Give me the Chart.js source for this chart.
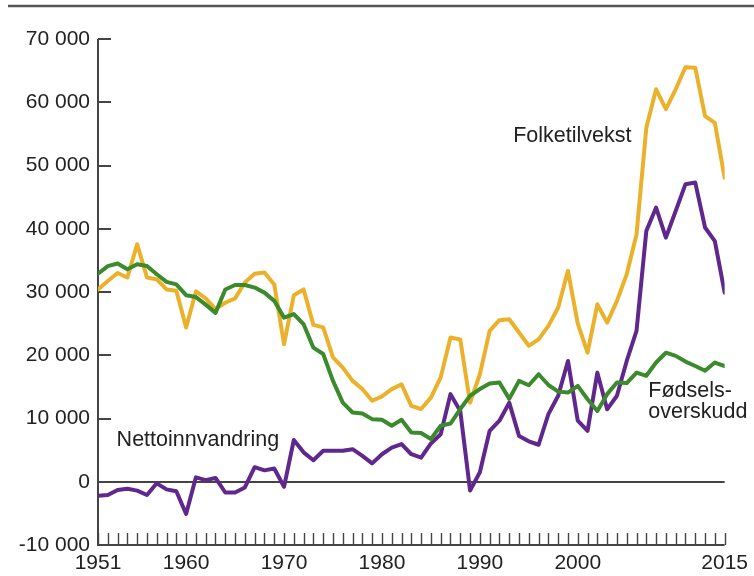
<!DOCTYPE html>
<html>
<head>
<meta charset="utf-8">
<script src="https://cdn.jsdelivr.net/npm/chart.js@4/dist/chart.umd.min.js"></script>
<style>
  html, body { margin: 0; padding: 0; background: #ffffff; }
  #wrap { width: 754px; height: 576px; position: relative; }
</style>
</head>
<body>
<div id="wrap"><canvas id="c" width="754" height="576"></canvas></div>
<script>
// ---- Data ----
const years = [1951,1952,1953,1954,1955,1956,1957,1958,1959,1960,
  1961,1962,1963,1964,1965,1966,1967,1968,1969,1970,
  1971,1972,1973,1974,1975,1976,1977,1978,1979,1980,
  1981,1982,1983,1984,1985,1986,1987,1988,1989,1990,
  1991,1992,1993,1994,1995,1996,1997,1998,1999,2000,
  2001,2002,2003,2004,2005,2006,2007,2008,2009,2010,
  2011,2012,2013,2014,2015];

const folketilvekst = [30400,31750,33000,32300,37550,32300,32000,30400,30200,24400,
  30100,29000,27300,28300,29000,31500,32900,33100,31200,21750,
  29500,30400,24800,24400,19650,18050,15950,14650,12800,13500,
  14650,15400,12000,11500,13300,16500,22800,22500,12500,17000,
  23850,25550,25700,23600,21500,22500,24650,27550,33350,25000,
  20400,28050,25150,28600,32800,39100,55950,62050,58900,62050,
  65550,65450,57800,56750,48050];

const fodselsoverskudd = [32900,34100,34500,33600,34400,34100,32800,31600,31200,29500,
  29200,28000,26700,30400,31100,31100,30700,29900,28600,25950,
  26500,24900,21200,20200,15950,12500,10950,10800,9900,9800,
  8850,9800,7800,7700,6750,8850,9200,11500,13600,14650,
  15550,15700,13100,15950,15250,17000,15300,14250,14100,15150,
  13050,11200,13850,15700,15600,17250,16750,18850,20400,19900,
  19000,18300,17550,18850,18300];

const nettoinnvandring = [-2200,-2100,-1300,-1100,-1400,-2100,-250,-1200,-1500,-5100,
  700,250,600,-1700,-1700,-900,2300,1800,2100,-800,
  6600,4650,3400,4900,4900,4900,5150,4100,2900,4350,
  5400,5950,4350,3800,6050,7500,13850,11200,-1400,1500,
  8050,9650,12500,7250,6400,5850,10700,13600,19100,9650,
  8050,17250,11450,13600,19100,23850,39650,43350,38600,42800,
  47050,47300,40200,38050,29900];

const yTickValues = [-10000,0,10000,20000,30000,40000,50000,60000,70000];
const xTickLabels = [1951,1960,1970,1980,1990,2000,2015];

// Series labels placed next to the lines (anchor year / value, left aligned)
const seriesLabelText  = [['Folketilvekst'], ['Nettoinnvandring'], ['Fødsels-','overskudd']];
const seriesLabelYear  = [1993.4, 1952.9, 2007.2];
const seriesLabelValue = [54700, 6600, 14270];

// ---- Styles ----
const FONT = '"Liberation Sans", Arial, Helvetica, sans-serif';
const AXIS = '#444444';
const TEXT = '#222222';

function pts(vals) { return years.map((yr, i) => ({ x: yr, y: vals[i] })); }
function fmt(v) { return String(v).replace(/\B(?=(\d{3})+(?!\d))/g, ' '); }

const axesPlugin = {
  id: 'axesPlugin',
  beforeDraw(chart) {
    const ctx = chart.ctx;
    ctx.save();
    ctx.strokeStyle = '#555555';
    ctx.lineWidth = 2.5;
    ctx.beginPath();
    ctx.moveTo(8, 6);
    ctx.lineTo(754, 6);
    ctx.stroke();
    ctx.restore();
  },
  beforeDatasetsDraw(chart) {
    const { ctx, chartArea: a, scales: { x, y } } = chart;
    ctx.save();
    ctx.strokeStyle = AXIS;
    ctx.lineCap = 'butt';
    // zero line
    ctx.lineWidth = 2;
    const y0 = Math.round(y.getPixelForValue(0));
    ctx.beginPath(); ctx.moveTo(a.left, y0); ctx.lineTo(a.right, y0); ctx.stroke();
    // y ticks (inward)
    yTickValues.forEach(v => {
      const py = Math.round(y.getPixelForValue(v));
      ctx.beginPath(); ctx.moveTo(a.left, py); ctx.lineTo(a.left + 13, py); ctx.stroke();
    });
    // x minor ticks (every year, inward)
    ctx.lineWidth = 1.4;
    years.forEach(yr => {
      const px = Math.round(x.getPixelForValue(yr)) + 0.5;
      ctx.beginPath(); ctx.moveTo(px, a.bottom); ctx.lineTo(px, a.bottom - 12); ctx.stroke();
    });
    // axis lines
    ctx.lineWidth = 2;
    ctx.beginPath();
    ctx.moveTo(a.left, a.top); ctx.lineTo(a.left, a.bottom); ctx.lineTo(a.right, a.bottom);
    ctx.stroke();
    ctx.restore();
  },
  afterDatasetsDraw(chart) {
    const { ctx, scales: { x, y } } = chart;
    ctx.save();
    ctx.fillStyle = TEXT;
    ctx.font = '21.5px ' + FONT;
    ctx.textAlign = 'left';
    ctx.textBaseline = 'middle';
    seriesLabelText.forEach((lines, i) => {
      const px = x.getPixelForValue(seriesLabelYear[i]);
      const py = y.getPixelForValue(seriesLabelValue[i]);
      lines.forEach((t, j) => ctx.fillText(t, px, py + j * 21));
    });
    ctx.restore();
  }
};

new Chart(document.getElementById('c'), {
  type: 'line',
  data: {
    datasets: [
      { label: 'Folketilvekst', data: pts(folketilvekst), borderColor: '#EBB12B', order: 3 },
      { label: 'Nettoinnvandring', data: pts(nettoinnvandring), borderColor: '#60288C', order: 2 },
      { label: 'Fødselsoverskudd', data: pts(fodselsoverskudd), borderColor: '#3B8B2D', order: 1 }
    ]
  },
  options: {
    responsive: false,
    animation: false,
    devicePixelRatio: 1,
    layout: { padding: { top: 39, right: 24, bottom: 0, left: 0 } },
    elements: {
      line: { borderWidth: 4, tension: 0, borderJoinStyle: 'round', borderCapStyle: 'round', fill: false },
      point: { radius: 0, hoverRadius: 0 }
    },
    plugins: { legend: { display: false }, tooltip: { enabled: false } },
    scales: {
      x: {
        type: 'linear', min: 1951, max: 2015,
        grid: { display: false, drawTicks: false },
        border: { display: false },
        afterBuildTicks(s) { s.ticks = xTickLabels.map(v => ({ value: v })); },
        afterFit(s) { s.height = 31; },
        ticks: {
          autoSkip: false, maxRotation: 0, padding: 6,
          color: TEXT, font: { family: FONT, size: 21 },
          callback: v => String(v)
        }
      },
      y: {
        type: 'linear', min: -10000, max: 70000,
        grid: { display: false, drawTicks: false },
        border: { display: false },
        afterBuildTicks(s) { s.ticks = yTickValues.map(v => ({ value: v })); },
        afterFit(s) { s.width = 98; },
        ticks: {
          padding: 8, color: TEXT, font: { family: FONT, size: 21 },
          callback: v => fmt(v)
        }
      }
    }
  },
  plugins: [axesPlugin]
});
</script>
</body>
</html>
